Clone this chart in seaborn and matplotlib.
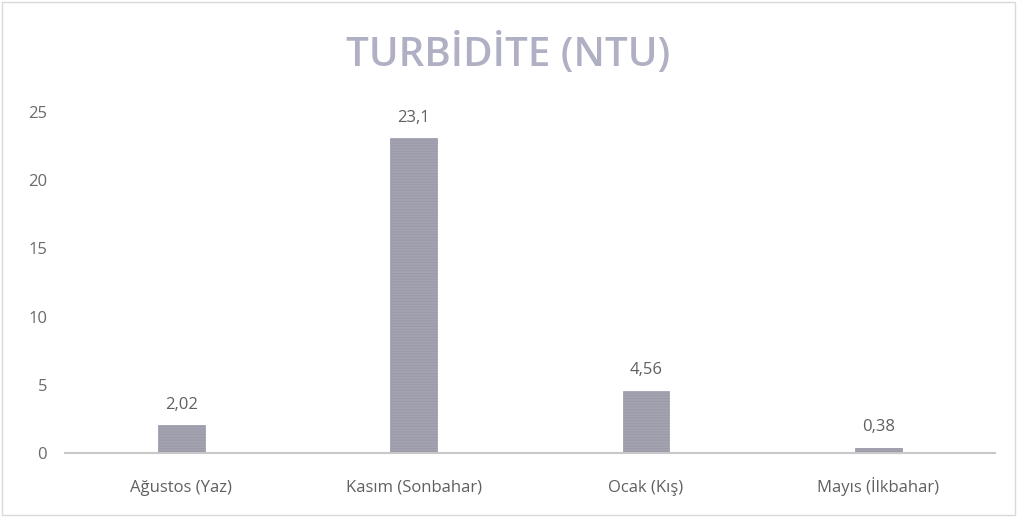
import matplotlib
matplotlib.use("Agg")
import matplotlib.pyplot as plt
import seaborn as sns
import pandas as pd

categories = ["Ağustos (Yaz)", "Kasım (Sonbahar)", "Ocak (Kış)", "Mayıs (İlkbahar)"]
values = [2.02, 23.1, 4.56, 0.38]
value_labels = ["2,02", "23,1", "4,56", "0,38"]
yticks = [0, 5, 10, 15, 20, 25]

sns.set_theme(style="white")
plt.rcParams['font.family'] = ['Open Sans', 'DejaVu Sans']
plt.rcParams['hatch.color'] = '#cacad2'
plt.rcParams['hatch.linewidth'] = 0.8

df = pd.DataFrame({"cat": categories, "val": values})
fig = plt.figure(figsize=(10.17, 5.17), dpi=100)
ax = fig.add_axes([0.064, 0.124, 0.914, 0.659])
sns.barplot(data=df, x="cat", y="val", ax=ax, color="#a3a3b1", width=0.2,
            saturation=1, edgecolor="#9a9aa8", linewidth=0.5)
for p in ax.patches:
    p.set_hatch('------')

for i, (v, t) in enumerate(zip(values, value_labels)):
    ax.text(i, v + 0.9, t, ha="center", va="bottom", fontsize=12, color="#606060")

ax.set_ylim(0, 25)
ax.set_yticks(yticks)
ax.set_yticklabels([str(y) for y in yticks], fontsize=12, color="#6a6a6a")
ax.tick_params(axis='x', labelsize=12, colors="#606060", length=0, pad=28)
for lbl in ax.get_xticklabels():
    lbl.set_verticalalignment("baseline")
ax.tick_params(axis='y', length=0, pad=13)
ax.set_xlabel("")
ax.set_ylabel("")
for s in ["top", "right", "left"]:
    ax.spines[s].set_visible(False)
ax.spines["bottom"].set_color("#c8c8c8")
ax.spines["bottom"].set_linewidth(1.5)

fig.text(0.5, 0.893, "TURBİDİTE (NTU)", ha="center", va="center", fontsize=29,
         fontweight="semibold", color="#b0b0c4")

fig.patches.append(plt.Rectangle((0.002, 0.004), 0.996, 0.992, transform=fig.transFigure,
                                 fill=False, edgecolor="#d9d9d9", linewidth=1))
fig.savefig("out.png", dpi=100, facecolor="white")
